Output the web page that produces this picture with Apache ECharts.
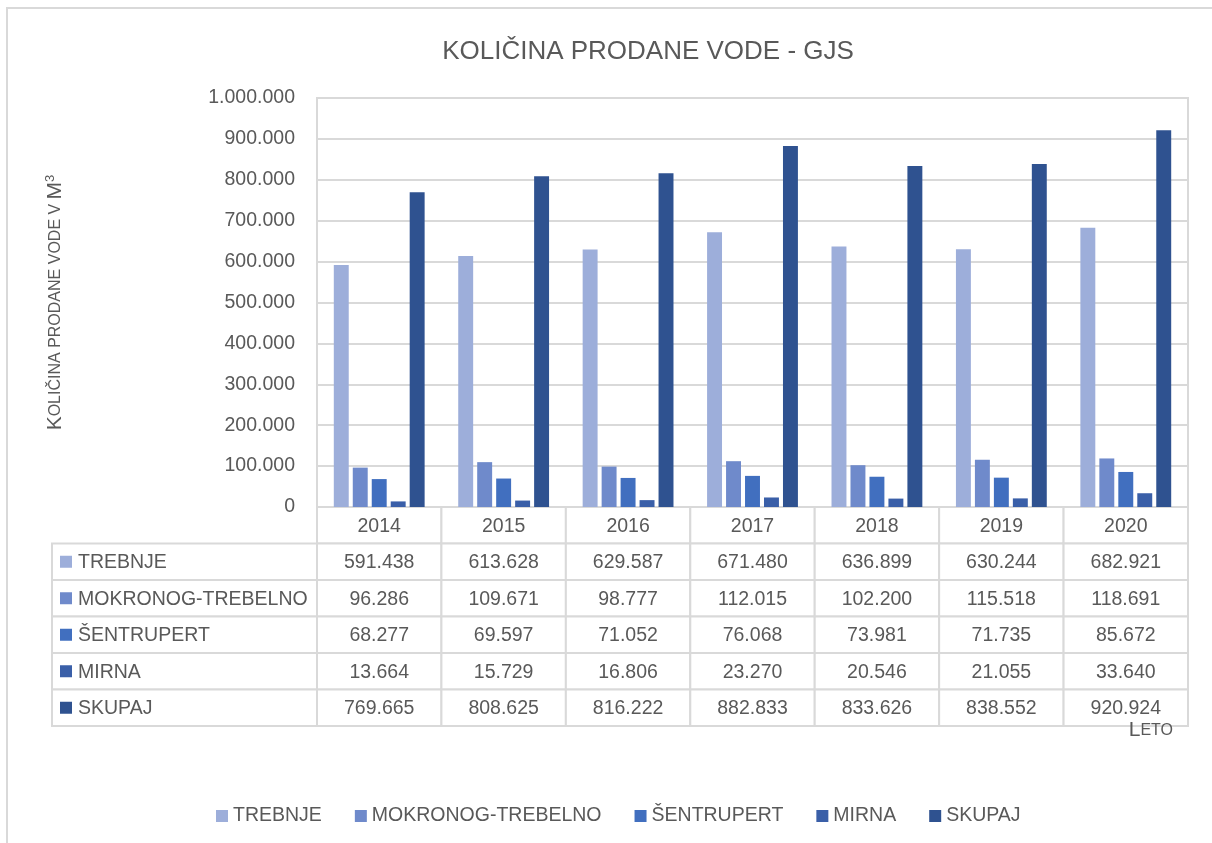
<!DOCTYPE html>
<html>
<head>
<meta charset="utf-8">
<title>Količina prodane vode - GJS</title>
<script src="https://cdn.jsdelivr.net/npm/echarts@6/dist/echarts.min.js"></script>
<style>
    html, body { margin: 0; padding: 0; background: #fff; }
    #main { width: 1212px; height: 843px; }
</style>
</head>
<body>
<div id="main"></div>
<script>
var years = ['2014', '2015', '2016', '2017', '2018', '2019', '2020'];
var seriesNames = ['TREBNJE', 'MOKRONOG-TREBELNO', 'ŠENTRUPERT', 'MIRNA', 'SKUPAJ'];
var trebnje = [591438, 613628, 629587, 671480, 636899, 630244, 682921];
var mokronog = [96286, 109671, 98777, 112015, 102200, 115518, 118691];
var sentrupert = [68277, 69597, 71052, 76068, 73981, 71735, 85672];
var mirna = [13664, 15729, 16806, 23270, 20546, 21055, 33640];
var skupaj = [769665, 808625, 816222, 882833, 833626, 838552, 920924];
var yTicks = [0, 100000, 200000, 300000, 400000, 500000, 600000, 700000, 800000, 900000, 1000000];

var seriesValues = [trebnje, mokronog, sentrupert, mirna, skupaj];
var colors = ['#9DAEDA', '#6F8ACB', '#416FBF', '#3A5FA8', '#2F5290'];
var textColor = '#595959';
var lineColor = '#D9D9D9';
var font = '"Liberation Sans", Arial, sans-serif';
var fs = 19.5;
var labelColW = 265; // width of the series-name column of the table

function fmt(v) {
    return String(v).replace(/\B(?=(\d{3})+(?!\d))/g, '.');
}

// table cells: [col, row, isNameCell]
var cellData = [];
years.forEach(function(y, c) {
    for (var r = 0; r <= seriesNames.length; r++) {
        cellData.push([c, r, 0]);
    }
});
seriesNames.forEach(function(n, i) {
    cellData.push([0, i + 1, 1]);
});

function renderCell(params, api) {
    var col = api.value(0), row = api.value(1), isName = api.value(2);
    var c = api.coord([col, row]);
    var s = api.size([1, 1]);
    var x = c[0] - s[0] / 2, y = c[1] - s[1] / 2;
    var border = { fill: '#fff', stroke: lineColor, lineWidth: 2 };
    if (isName) {
        var i = row - 1;
        return {
            type: 'group',
            children: [
                { type: 'rect', shape: { x: x - labelColW, y: y, width: labelColW, height: s[1] }, style: border },
                { type: 'rect', shape: { x: x - labelColW + 8, y: c[1] - 6, width: 12, height: 12 }, style: { fill: colors[i] } },
                { type: 'text', x: x - labelColW + 26, y: c[1] + 1,
                  style: { text: seriesNames[i], fill: textColor, font: fs + 'px ' + font, align: 'left', verticalAlign: 'middle' } }
            ]
        };
    }
    var txt = row === 0 ? years[col] : fmt(seriesValues[row - 1][col]);
    return {
        type: 'group',
        children: [
            { type: 'rect', shape: { x: x, y: y, width: s[0], height: s[1] }, style: border },
            { type: 'text', x: c[0], y: c[1] + 1,
              style: { text: txt, fill: textColor, font: fs + 'px ' + font, align: 'center', verticalAlign: 'middle' } }
        ]
    };
}

var chart = echarts.init(document.getElementById('main'));

var barSeries = seriesNames.map(function(name, i) {
    return {
        name: name,
        type: 'bar',
        xAxisIndex: 0,
        yAxisIndex: 0,
        barGap: '27%',
        barCategoryGap: '27%',
        itemStyle: { color: colors[i] },
        data: seriesValues[i]
    };
});

var option = {
    animation: false,
    color: colors,
    title: {
        text: 'KOLIČINA PRODANE VODE - GJS',
        left: 643,
        textAlign: 'center',
        top: 34,
        textStyle: { fontFamily: font, fontSize: 26, fontWeight: 'normal', color: textColor }
    },
    legend: {
        data: seriesNames,
        left: 211,
        top: 801,
        icon: 'rect',
        itemWidth: 12,
        itemHeight: 12,
        itemGap: 33,
        textStyle: { fontFamily: font, fontSize: fs, color: textColor }
    },
    grid: [{
        left: 317, right: 24, top: 98, height: 409,
        show: true, borderColor: lineColor, borderWidth: 2
    }, {
        left: 317, right: 24, top: 507, height: 219
    }],
    xAxis: [{
        type: 'category',
        gridIndex: 0,
        data: years,
        axisLine: { lineStyle: { color: lineColor, width: 2 } },
        axisTick: { show: false },
        axisLabel: { show: false }
    }, {
        type: 'category',
        gridIndex: 1,
        data: years,
        show: false
    }],
    yAxis: [{
        type: 'value',
        gridIndex: 0,
        min: yTicks[0],
        max: yTicks[yTicks.length - 1],
        interval: yTicks[1] - yTicks[0],
        axisLine: { show: false },
        axisTick: { show: false },
        splitLine: { lineStyle: { color: lineColor, width: 2 } },
        axisLabel: {
            margin: 22,
            fontFamily: font,
            fontSize: fs,
            color: textColor,
            formatter: function(v) { return fmt(v); }
        },
        name: '{big|K}{small|OLIČINA PRODANE VODE V }{big|M}{sup|3}',
        nameLocation: 'middle',
        nameRotate: 90,
        nameGap: 250,
        nameTextStyle: {
            color: textColor,
            fontFamily: font,
            rich: {
                big: { fontSize: 21, fontFamily: font, color: textColor },
                small: { fontSize: 16, fontFamily: font, color: textColor },
                sup: { fontSize: 13, fontFamily: font, color: textColor, verticalAlign: 'top', padding: [0, 0, 10, 0] }
            }
        }
    }, {
        type: 'category',
        gridIndex: 1,
        inverse: true,
        data: ['LETO'].concat(seriesNames),
        show: false
    }],
    graphic: [{
        type: 'rect',
        shape: { x: 7, y: 8, width: 1300, height: 900 },
        style: { fill: 'none', stroke: lineColor, lineWidth: 2 },
        silent: true
    }, {
        type: 'text',
        right: 39,
        top: 720,
        z: 100,
        style: {
            text: '{big|L}{small|ETO}',
            fill: textColor,
            rich: {
                big: { fontSize: 21, fontFamily: font, fill: textColor },
                small: { fontSize: 16, fontFamily: font, fill: textColor }
            }
        }
    }],
    series: barSeries.concat([{
        type: 'custom',
        xAxisIndex: 1,
        yAxisIndex: 1,
        renderItem: renderCell,
        data: cellData,
        silent: true
    }])
};

chart.setOption(option);
</script>
</body>
</html>
